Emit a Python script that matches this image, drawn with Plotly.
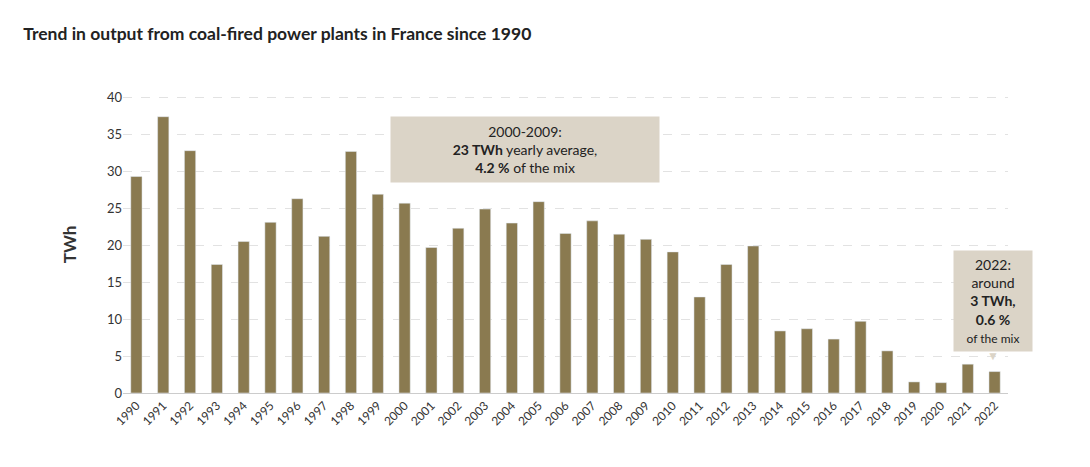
import plotly.graph_objects as go

years = [str(y) for y in range(1990, 2023)]
twh = [29.3, 37.4, 32.8, 17.4, 20.5, 23.1, 26.3, 21.2, 32.7, 26.9,
       25.7, 19.7, 22.3, 24.9, 23.0, 25.9, 21.6, 23.3, 21.5, 20.8,
       19.1, 13.0, 17.4, 19.9, 8.4, 8.7, 7.3, 9.7, 5.7, 1.5,
       1.4, 3.9, 2.9]

bar_col = '#8a7a50'
box_col = '#dbd4c7'
font = 'Lato, Open Sans, sans-serif'

fig = go.Figure(go.Bar(x=years, y=twh, marker_color=bar_col, width=0.42))

fig.update_layout(
    width=1090, height=467,
    margin=dict(l=115, r=90, t=88, b=82),
    plot_bgcolor='white', paper_bgcolor='white',
    font=dict(family=font, color='#333', size=13),
    showlegend=False,
    title=dict(text='<b>Trend in output from coal-fired power plants in France since 1990</b>',
               x=0.014, y=0.957, xanchor='left', font=dict(size=17.5, color='#222')),
    xaxis=dict(tickangle=-45, tickfont=dict(size=12), showgrid=False,
               showline=True, linecolor='#ccc'),
    yaxis=dict(range=[0, 40.2], dtick=5, gridcolor='#e2e2e2', griddash='dash',
               zeroline=False, tickfont=dict(size=13),
               title=dict(text='<b>TWh</b>', font=dict(size=17, color='#333'), standoff=25)),
)

fig.add_annotation(xref='paper', yref='paper', x=0.454, y=0.82, showarrow=False,
                   xanchor='center', yanchor='middle',
                   text='2000-2009:<br><b>23 TWh</b> yearly average,<br><b>4.2 %</b> of the mix',
                   bgcolor=box_col, borderpad=6, width=256, font=dict(size=14, color='#222'))
fig.add_annotation(xref='paper', yref='paper', x=0.983, y=0.311, showarrow=False,
                   xanchor='center', yanchor='middle',
                   text='2022:<br>around<br><b>3 TWh,</b><br><b>0.6 %</b><br><span style="font-size:12px">of the mix</span>',
                   bgcolor=box_col, borderpad=5, width=68, font=dict(size=14, color='#222'))
fig.add_annotation(xref='paper', yref='paper', x=0.983, y=0.125, showarrow=False,
                   xanchor='center', yanchor='middle',
                   text='▼', font=dict(size=12, color=box_col))

fig.write_html('out.html')
